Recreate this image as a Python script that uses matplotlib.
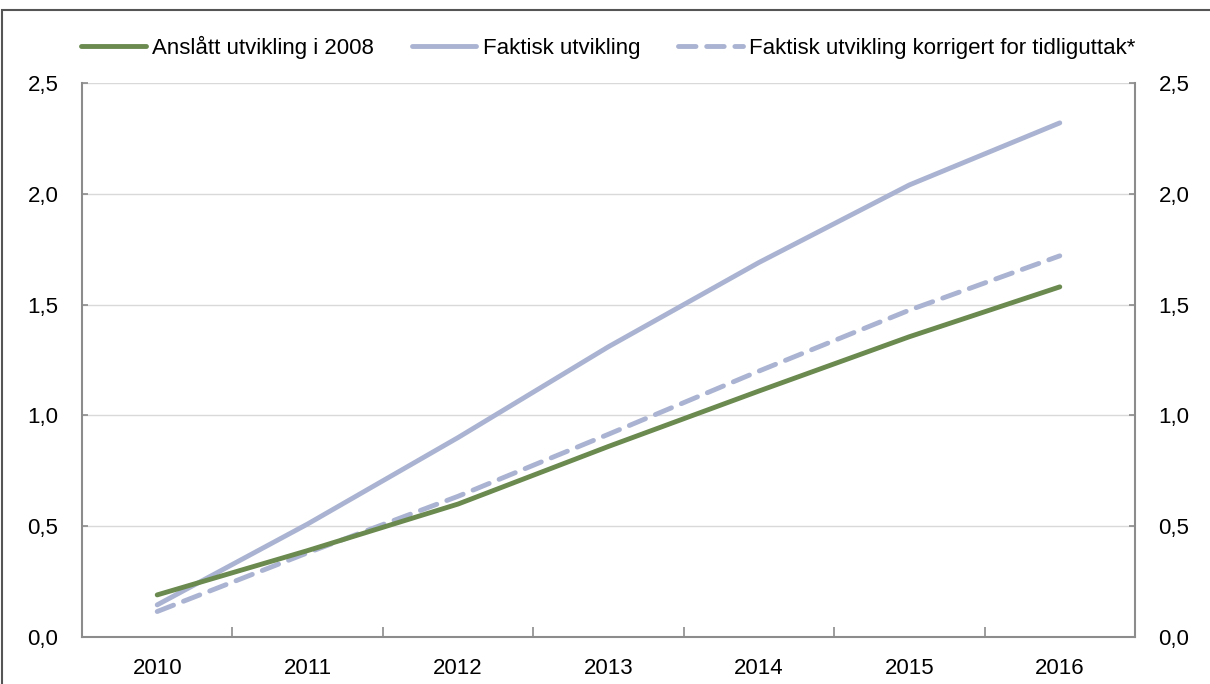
import matplotlib.pyplot as plt
from matplotlib.patches import Rectangle

plt.rcParams['font.family'] = ['Liberation Sans', 'DejaVu Sans']

years = ['2010', '2011', '2012', '2013', '2014', '2015', '2016']
anslatt = [0.19, 0.39, 0.60, 0.86, 1.11, 1.355, 1.58]
faktisk = [0.145, 0.51, 0.90, 1.31, 1.69, 2.04, 2.32]
korrigert = [0.115, 0.38, 0.635, 0.915, 1.20, 1.475, 1.72]
yticks = [0.0, 0.5, 1.0, 1.5, 2.0, 2.5]
ylabels = ['0,0', '0,5', '1,0', '1,5', '2,0', '2,5']

green = '#6a8a4f'
lav = '#aab3d1'
grey = '#8c8c8c'

fig = plt.figure(figsize=(12.1, 6.84), dpi=100)
ax = fig.add_axes([82/1210, 1-637/684, 1053/1210, 554/684])
x = list(range(len(years)))
ax.plot(x, anslatt, color=green, lw=3.5, solid_capstyle='round', label='Anslått utvikling i 2008', zorder=3)
ax.plot(x, faktisk, color=lav, lw=3.5, solid_capstyle='round', label='Faktisk utvikling', zorder=2)
ax.plot(x, korrigert, color=lav, lw=3.5, ls=(0, (3.6, 2.2)), dash_capstyle='round',
        label='Faktisk utvikling korrigert for tidliguttak*', zorder=2)

ax.set_xlim(-0.5, len(years)-0.5)
ax.set_ylim(0, 2.5)
ax.set_yticks(yticks)
ax.set_yticklabels(ylabels)
ax.set_xticks(x)
ax.set_xticklabels(years)
ax.set_xticks([i + 0.5 for i in x[:-1]], minor=True)
ax.tick_params(axis='x', which='major', length=0, pad=15, labelsize=16)
ax.tick_params(axis='x', which='minor', length=7, direction='in', color=grey, width=1.2)
ax.tick_params(axis='y', length=4, direction='in', color=grey, width=1.2, pad=17,
               labelsize=16, left=True, right=True, labelleft=True, labelright=True)
ax.grid(axis='y', color='#d9d9d9', lw=1)
ax.set_axisbelow(True)
ax.spines['top'].set_visible(False)
for s in ['left', 'right', 'bottom']:
    ax.spines[s].set_color(grey)
    ax.spines[s].set_linewidth(1.5)

ax.legend(loc='lower center', bbox_to_anchor=(0.5, 1.0), ncol=3, frameon=False,
          fontsize=16, handlelength=2.9, handletextpad=0.3, columnspacing=1.7,
          borderaxespad=0.7)

fig.patches.append(Rectangle((2/1210, -0.01), 1.2, (684-10)/684 + 0.01, transform=fig.transFigure,
                             fill=False, edgecolor='#555555', lw=1.5))
fig.savefig('out.png', dpi=100)
